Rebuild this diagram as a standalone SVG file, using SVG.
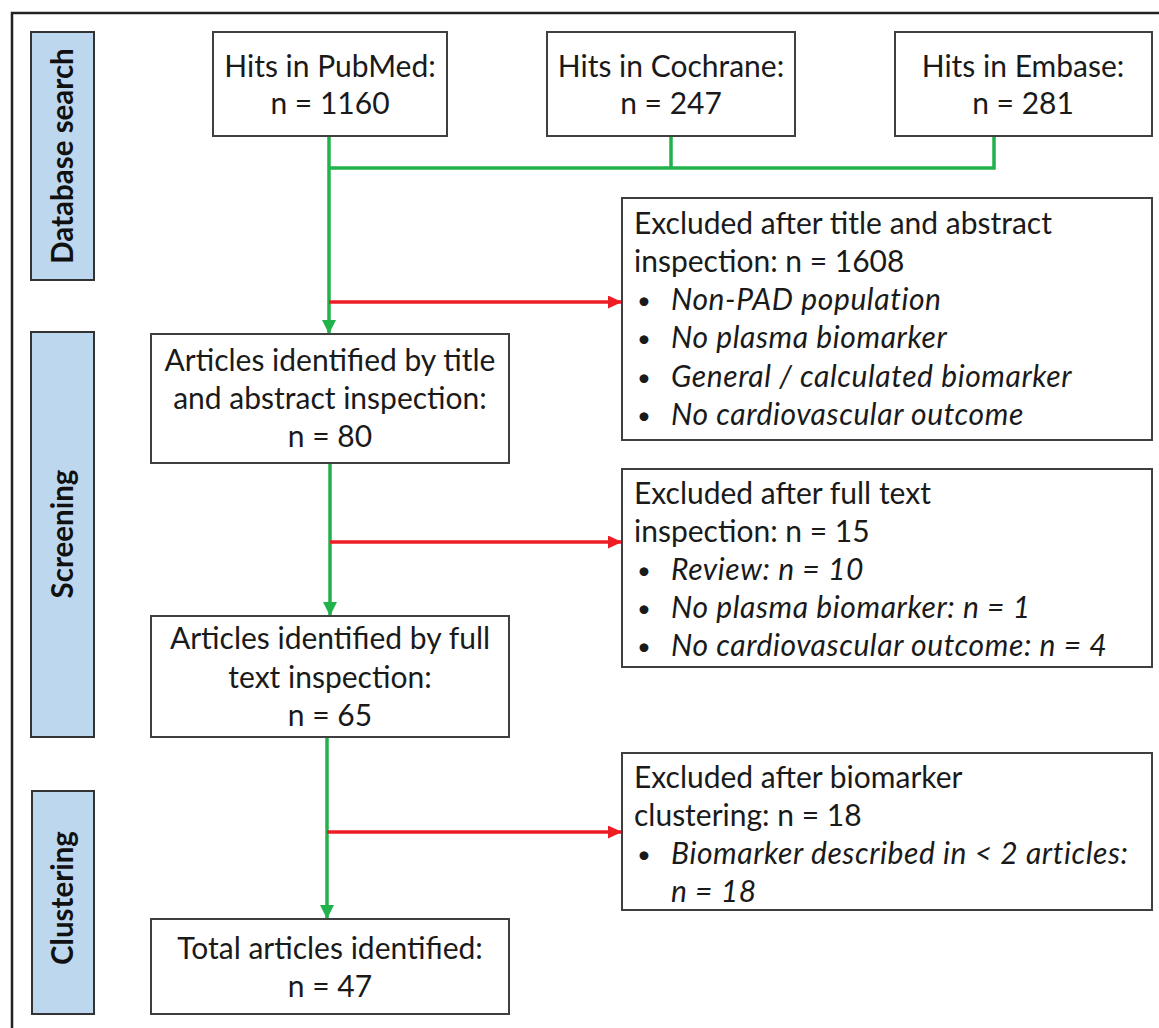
<svg xmlns="http://www.w3.org/2000/svg" width="1159" height="1028" viewBox="0 0 1159 1028">
<style>
.box{fill:#fff;stroke:#3f3f3f;stroke-width:2}
.side{fill:#bdd7ee;stroke:#333;stroke-width:2}
.t{font-family:Lato,"Liberation Sans",sans-serif;font-size:30px;fill:#1a1a1a}
.c{text-anchor:middle}
.i{font-style:italic;letter-spacing:0.6px}
.b{font-size:24px}
.lab{font-family:Lato,"Liberation Sans",sans-serif;font-size:29.5px;font-weight:bold;fill:#111;text-anchor:middle}
.g{stroke:#21b24b;stroke-width:3.5;fill:none}
.r{stroke:#ee1c25;stroke-width:3.5;fill:none}
</style>
<defs>
<marker id="ag" markerUnits="userSpaceOnUse" markerWidth="14" markerHeight="16" refX="14" refY="7" orient="auto"><path d="M0,0 L14,7 L0,14 z" fill="#21b24b"/></marker>
<marker id="ar" markerUnits="userSpaceOnUse" markerWidth="14" markerHeight="14" refX="14" refY="6.5" orient="auto"><path d="M0,0 L14,6.5 L0,13 z" fill="#ee1c25"/></marker>
</defs>
<rect x="0" y="0" width="1159" height="1028" fill="#fff"/>
<rect x="12" y="13" width="1160" height="1030" fill="none" stroke="#222" stroke-width="2.5"/>

<g id="lane-database"><rect class="side" x="31" y="32" width="63" height="248"/><text class="lab" transform="translate(73,156) rotate(-90)">Database search</text></g>
<g id="lane-screening"><rect class="side" x="31" y="332" width="63" height="405"/><text class="lab" transform="translate(73,534) rotate(-90)">Screening</text></g>
<g id="lane-clustering"><rect class="side" x="32" y="791" width="62" height="223"/><text class="lab" transform="translate(73,898) rotate(-90)">Clustering</text></g>

<g id="connectors">
<path class="g" d="M329,136 V334" marker-end="url(#ag)"/>
<path class="g" d="M329,168 H994 V136 M671,168 V136"/>
<path class="g" d="M330,463 V616" marker-end="url(#ag)"/>
<path class="g" d="M327,737 V919" marker-end="url(#ag)"/>
<path class="r" d="M329,302 H622" marker-end="url(#ar)"/>
<path class="r" d="M330,542 H622" marker-end="url(#ar)"/>
<path class="r" d="M327,832 H622" marker-end="url(#ar)"/>
</g>

<g id="pubmed"><rect class="box" x="213" y="32" width="234" height="104"/><text class="t c" x="330" y="77">Hits in PubMed:</text><text class="t c" x="330" y="114">n = 1160</text></g>
<g id="cochrane"><rect class="box" x="547" y="32" width="248" height="104"/><text class="t c" x="671" y="77">Hits in Cochrane:</text><text class="t c" x="671" y="114">n = 247</text></g>
<g id="embase"><rect class="box" x="895" y="32" width="257" height="104"/><text class="t c" x="1023" y="77">Hits in Embase:</text><text class="t c" x="1023" y="114">n = 281</text></g>

<g id="excluded-title"><rect class="box" x="622" y="198" width="530" height="242"/>
<text class="t" x="634" y="234">Excluded after title and abstract</text>
<text class="t" x="634" y="272">inspection: n = 1608</text>
<text class="t b" x="637" y="309">•</text><text class="t i" x="671" y="310">Non-PAD population</text>
<text class="t b" x="637" y="347">•</text><text class="t i" x="671" y="348">No plasma biomarker</text>
<text class="t b" x="637" y="386">•</text><text class="t i" x="671" y="387">General / calculated biomarker</text>
<text class="t b" x="637" y="424">•</text><text class="t i" x="671" y="425">No cardiovascular outcome</text>
</g>

<g id="articles-title"><rect class="box" x="151" y="334" width="358" height="129"/>
<text class="t c" x="330" y="371">Articles identified by title</text>
<text class="t c" x="330" y="409">and abstract inspection:</text>
<text class="t c" x="330" y="447">n = 80</text></g>

<g id="excluded-fulltext"><rect class="box" x="622" y="469" width="530" height="198"/>
<text class="t" x="634" y="504">Excluded after full text</text>
<text class="t" x="634" y="542">inspection: n = 15</text>
<text class="t b" x="637" y="579">•</text><text class="t i" x="671" y="580">Review: n = 10</text>
<text class="t b" x="637" y="617">•</text><text class="t i" x="671" y="618">No plasma biomarker: n = 1</text>
<text class="t b" x="637" y="655">•</text><text class="t i" x="671" y="656">No cardiovascular outcome: n = 4</text>
</g>

<g id="articles-fulltext"><rect class="box" x="151" y="616" width="358" height="121"/>
<text class="t c" x="330" y="649">Articles identified by full</text>
<text class="t c" x="330" y="688">text inspection:</text>
<text class="t c" x="330" y="726">n = 65</text></g>

<g id="excluded-clustering"><rect class="box" x="622" y="753" width="530" height="157"/>
<text class="t" x="634" y="788">Excluded after biomarker</text>
<text class="t" x="634" y="826">clustering: n = 18</text>
<text class="t b" x="637" y="863">•</text><text class="t i" x="671" y="864">Biomarker described in &lt; 2 articles:</text>
<text class="t i" x="671" y="902">n = 18</text>
</g>

<g id="total"><rect class="box" x="151" y="919" width="358" height="95"/>
<text class="t c" x="330" y="959">Total articles identified:</text>
<text class="t c" x="330" y="997">n = 47</text></g>
</svg>
